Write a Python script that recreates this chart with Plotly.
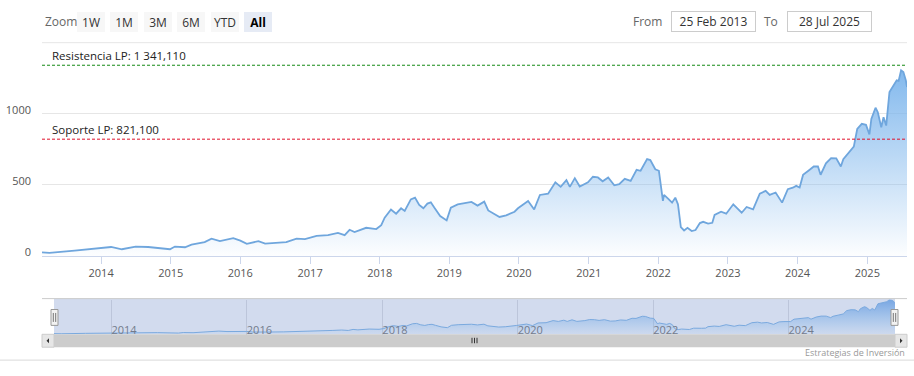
import plotly.graph_objects as go

# ---------------- data ----------------
dates = [
    "2013-02-25", "2013-04-05", "2013-08-15", "2014-01-01", "2014-02-22", "2014-04-20",
    "2014-07-01", "2014-09-05", "2014-12-28", "2015-01-23", "2015-03-17", "2015-04-20",
    "2015-06-28", "2015-08-03", "2015-09-16", "2015-11-25", "2016-01-01", "2016-02-04",
    "2016-04-05", "2016-05-10", "2016-07-18", "2016-08-29", "2016-10-22", "2016-12-05",
    "2017-02-04", "2017-04-05", "2017-05-27", "2017-07-01", "2017-07-27", "2017-08-22",
    "2017-10-22", "2017-12-14", "2018-01-09", "2018-01-27", "2018-03-01", "2018-03-28",
    "2018-04-23", "2018-05-12", "2018-06-13", "2018-07-05", "2018-07-27", "2018-08-18",
    "2018-09-08", "2018-09-26", "2018-10-14", "2018-11-14", "2018-12-18", "2019-01-09",
    "2019-02-14", "2019-03-21", "2019-04-27", "2019-05-29", "2019-07-03", "2019-07-24",
    "2019-09-21", "2019-10-26", "2019-12-09", "2019-12-27", "2020-02-18", "2020-03-21",
    "2020-04-20", "2020-06-02", "2020-07-10", "2020-08-07", "2020-09-06", "2020-09-24",
    "2020-10-20", "2020-11-15", "2020-12-28", "2021-01-23", "2021-02-18", "2021-03-15",
    "2021-04-13", "2021-05-15", "2021-06-10", "2021-07-09", "2021-08-09", "2021-09-09",
    "2021-09-30", "2021-11-03", "2021-11-20", "2021-12-16", "2022-01-04", "2022-01-25",
    "2022-01-31", "2022-02-25", "2022-03-14", "2022-03-31", "2022-04-14", "2022-04-29",
    "2022-05-16", "2022-06-03", "2022-06-25", "2022-07-15", "2022-08-07", "2022-08-24",
    "2022-09-19", "2022-10-11", "2022-10-23", "2022-11-26", "2022-12-23", "2023-01-29",
    "2023-03-14", "2023-04-09", "2023-05-13", "2023-06-17", "2023-07-18", "2023-08-08",
    "2023-09-08", "2023-10-12", "2023-11-11", "2023-12-07", "2023-12-25", "2024-01-12",
    "2024-01-30", "2024-02-27", "2024-03-26", "2024-04-17", "2024-05-01", "2024-05-29",
    "2024-06-25", "2024-07-22", "2024-08-15", "2024-08-28", "2024-09-24", "2024-10-22",
    "2024-11-09", "2024-12-03", "2024-12-25", "2025-01-12", "2025-01-22", "2025-02-13",
    "2025-02-25", "2025-03-15", "2025-03-27", "2025-04-10", "2025-04-27", "2025-05-23",
    "2025-06-04", "2025-06-14", "2025-06-27", "2025-07-09", "2025-07-22", "2025-07-28",
]
prices = [
    25, 21, 37, 54, 63, 47,
    66, 63, 47, 66, 61, 80,
    97, 122, 104, 125, 108, 85,
    104, 87, 92, 97, 122, 118,
    141, 146, 162, 146, 184, 168,
    198, 189, 217, 269, 327, 297,
    335, 316, 398, 410, 359, 335,
    368, 377, 340, 281, 250, 340,
    363, 370, 380, 354, 382, 320,
    274, 285, 311, 335, 387, 327,
    429, 438, 518, 486, 533, 486,
    547, 488, 518, 557, 552, 525,
    552, 497, 505, 542, 528, 606,
    599, 681, 674, 610, 599, 387,
    429, 398, 375, 410, 363, 203,
    179, 198, 175, 182, 231, 240,
    228, 233, 288, 311, 297, 363,
    304, 344, 327, 438, 458, 429,
    446, 375, 469, 480, 493, 481,
    570, 599, 629, 629, 571, 651,
    688, 686, 629, 681, 723, 769,
    893, 929, 922, 854, 964, 1042,
    1011, 905, 976, 917, 1153, 1207,
    1235, 1231, 1306, 1294, 1235, 1188,
]
resistance_value = 1341.110
support_value = 821.100
resistance_label = "Resistencia LP: 1 341,110"
support_label = "Soporte LP: 821,100"
zoom_buttons = ["1W", "1M", "3M", "6M", "YTD", "All"]
selected_button = "All"
from_text = "25 Feb 2013"
to_text = "28 Jul 2025"
start_date = "2013-02-25"
end_date = "2025-07-28"
y_ticks = [0, 500, 1000, 1500]
y_ticktext = ["0", "500", "1000", ""]
credit_text = "Estrategias de Inversión"

# ---------------- layout helpers ----------------
W, H = 914, 376
FONT = "Open Sans"


def px(x):
    return x / W


def py(y):
    return 1 - y / H


fig = go.Figure()

fig.add_trace(go.Scatter(
    x=dates, y=prices, mode="lines",
    line=dict(color="#6fa6dd", width=1.8),
    fill="tozeroy",
    fillgradient=dict(type="vertical",
                      colorscale=[[0, "rgba(124,181,236,0.02)"], [1, "rgba(124,181,236,0.95)"]]),
    hoverinfo="skip", showlegend=False,
    xaxis="x", yaxis="y",
))

fig.add_trace(go.Scatter(
    x=dates, y=prices, mode="lines",
    line=dict(color="#7aa9de", width=1),
    fill="tozeroy",
    fillgradient=dict(type="vertical",
                      colorscale=[[0, "rgba(124,181,236,0.05)"], [1, "rgba(110,160,225,0.9)"]]),
    hoverinfo="skip", showlegend=False,
    xaxis="x2", yaxis="y2",
))

shapes = []
annotations = []

# top gridline (1500) at the plot's upper edge
shapes.append(dict(type="line", xref="x domain", yref="y domain", x0=0, x1=1, y0=1, y1=1,
                   line=dict(color="#e6e6e6", width=1), layer="below"))

# plot lines (support / resistance)
for val, col in [(resistance_value, "#138a13"), (support_value, "#e0102a")]:
    shapes.append(dict(type="line", xref="x domain", yref="y", x0=0, x1=1, y0=val, y1=val,
                       line=dict(color=col, width=1, dash="3px,2px"), layer="above"))
for val, txt in [(resistance_value, resistance_label), (support_value, support_label)]:
    annotations.append(dict(xref="paper", yref="y", x=px(50), y=val, xanchor="left",
                            yanchor="bottom", yshift=0, text=txt, showarrow=False,
                            font=dict(family=FONT, size=11.5, color="#222")))

# range selector look-alike
annotations.append(dict(xref="paper", yref="paper", x=px(43), y=py(21.5), xanchor="left",
                        yanchor="middle", text="Zoom", showarrow=False,
                        font=dict(family=FONT, size=12, color="#666")))
for i, b in enumerate(zoom_buttons):
    cx = 91 + i * 33.4
    sel = (b == selected_button)
    annotations.append(dict(
        xref="paper", yref="paper", x=px(cx), y=py(21.7), xanchor="center", yanchor="middle",
        text=("<b>%s</b>" % b) if sel else b, showarrow=False, width=28, height=20,
        borderpad=0, borderwidth=0, bgcolor="#e6ebf5" if sel else "#f7f7f7",
        font=dict(family=FONT, size=12, color="#000" if sel else "#333")))

annotations.append(dict(xref="paper", yref="paper", x=px(664), y=py(21.5), xanchor="right",
                        yanchor="middle", text="From", showarrow=False,
                        font=dict(family=FONT, size=12, color="#666")))
annotations.append(dict(xref="paper", yref="paper", x=px(780), y=py(21.5), xanchor="right",
                        yanchor="middle", text="To", showarrow=False,
                        font=dict(family=FONT, size=12, color="#666")))
for cx, txt in [(713, from_text), (829, to_text)]:
    annotations.append(dict(
        xref="paper", yref="paper", x=px(cx), y=py(21.7), xanchor="center", yanchor="middle",
        text=txt, showarrow=False, width=83, height=19, borderpad=0, borderwidth=1,
        bordercolor="#cccccc", bgcolor="#ffffff",
        font=dict(family=FONT, size=12, color="#333")))

# navigator
shapes.append(dict(type="rect", xref="paper", yref="paper", x0=px(54), x1=px(895),
                   y0=py(337), y1=py(301), fillcolor="#d2dbee", line=dict(width=0), layer="below"))
shapes.append(dict(type="line", xref="paper", yref="paper", x0=px(42), x1=px(907),
                   y0=py(301), y1=py(301), line=dict(color="#cccccc", width=1), layer="above"))
for hx in (54.5, 894.5):
    shapes.append(dict(type="rect", xref="paper", yref="paper", x0=px(hx - 3.5), x1=px(hx + 3.5),
                       y0=py(328), y1=py(312), fillcolor="#f2f2f2",
                       line=dict(color="#999999", width=1), layer="above"))
    for dx in (-1.2, 1.2):
        shapes.append(dict(type="line", xref="paper", yref="paper", x0=px(hx + dx), x1=px(hx + dx),
                           y0=py(324.5), y1=py(315.5), line=dict(color="#555", width=0.8),
                           layer="above"))

# scrollbar
shapes.append(dict(type="rect", xref="paper", yref="paper", x0=px(54), x1=px(895),
                   y0=py(350), y1=py(337), fillcolor="#cccccc", line=dict(width=0), layer="above"))
for x0, x1 in [(42, 54), (895, 907)]:
    shapes.append(dict(type="rect", xref="paper", yref="paper", x0=px(x0), x1=px(x1),
                       y0=py(350), y1=py(337), fillcolor="#e6e6e6",
                       line=dict(color="#cccccc", width=1), layer="above"))
shapes.append(dict(type="path", xref="paper", yref="paper",
                   path="M %f %f L %f %f L %f %f Z" % (px(46.5), py(343.5), px(49), py(341),
                                                        px(49), py(346)),
                   fillcolor="#333", line=dict(width=0), layer="above"))
shapes.append(dict(type="path", xref="paper", yref="paper",
                   path="M %f %f L %f %f L %f %f Z" % (px(902.5), py(343.5), px(900), py(341),
                                                        px(900), py(346)),
                   fillcolor="#333", line=dict(width=0), layer="above"))
for gx in (472, 474.5, 477):
    shapes.append(dict(type="line", xref="paper", yref="paper", x0=px(gx), x1=px(gx),
                       y0=py(346), y1=py(340.5), line=dict(color="#333", width=1), layer="above"))

# bottom border
shapes.append(dict(type="line", xref="paper", yref="paper", x0=0, x1=1, y0=py(363), y1=py(363),
                   line=dict(color="#d9d9d9", width=1)))

annotations.append(dict(xref="paper", yref="paper", x=px(907), y=py(355.5), xanchor="right",
                        yanchor="middle", text=credit_text, showarrow=False,
                        font=dict(family=FONT, size=9, color="#999")))

NAV_MAX = 1310
NAV_MIN = -NAV_MAX * 8 / 35  # so that 0 sits at the navigator's bottom edge (y=337)

fig.update_layout(
    width=W, height=H,
    margin=dict(l=0, r=0, t=0, b=0),
    paper_bgcolor="white", plot_bgcolor="rgba(0,0,0,0)",
    font=dict(family=FONT, size=11, color="#666"),
    showlegend=False,
    xaxis=dict(
        domain=[px(42), px(907)], anchor="y", type="date",
        range=[start_date, end_date], dtick="M12", tick0="2014-01-01", tickformat="%Y",
        showgrid=False, showline=True, linecolor="#ccd6eb", linewidth=1,
        ticks="outside", ticklen=7, tickcolor="#ccd6eb", tickwidth=1,
        tickfont=dict(family=FONT, size=11, color="#555"), zeroline=False, fixedrange=True,
    ),
    yaxis=dict(
        domain=[py(258), py(43)], anchor="x", range=[0, 1500],
        tickvals=y_ticks, ticktext=y_ticktext, showgrid=True, gridcolor="#e6e6e6",
        zeroline=False, showline=False, ticks="",
        ticklabelstandoff=10, ticklabelshift=-4,
        tickfont=dict(family=FONT, size=11, color="#555"), fixedrange=True,
    ),
    xaxis2=dict(
        domain=[px(54), px(895)], anchor="y2", type="date",
        range=[start_date, end_date], dtick="M24", tick0="2014-01-01", tickformat="%Y",
        showgrid=True, gridcolor="#bcc5da", gridwidth=1, showline=False, ticks="",
        ticklabelposition="inside right", zeroline=False,
        tickfont=dict(family=FONT, size=11, color="#737b8c"), fixedrange=True,
    ),
    yaxis2=dict(
        domain=[py(345), py(302)], anchor="x2", range=[NAV_MIN, NAV_MAX], visible=False,
        showgrid=False, zeroline=False, fixedrange=True,
    ),
    shapes=shapes,
    annotations=annotations,
)

post = (
    "document.body.style.margin='0';document.body.style.padding='0';"
    "var s=document.createElement('style');"
    "s.innerHTML='.modebar-container,.modebar{display:none !important;}';"
    "document.head.appendChild(s);"
)
fig.write_html("out.html", post_script=post)
